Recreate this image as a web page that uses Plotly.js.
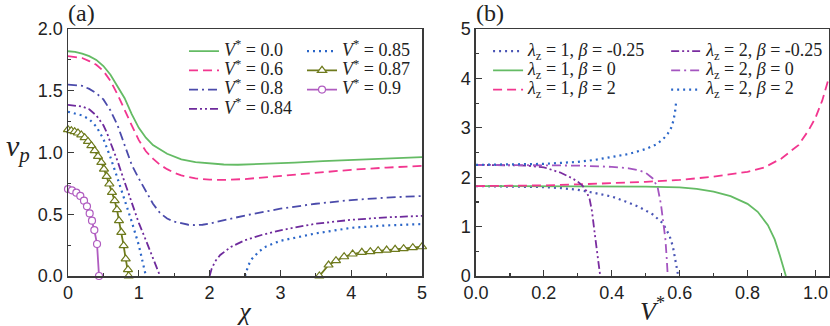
<!DOCTYPE html>
<html>
<head>
<meta charset="utf-8">
<script src="https://cdn.plot.ly/plotly-3.0.1.min.js"></script>
<style>
	html, body { margin: 0; padding: 0; background: #fff; }
	#plot { width: 830px; height: 326px; }
</style>
</head>
<body>
<div id="plot"></div>
<script>
/**
 * Panel (a): phase speed v_p against chi, one curve per V*
 * null splits a curve into its two branches
 */
const chiV00 = [0, 0.1, 0.2, 0.3, 0.4, 0.5, 0.6, 0.7, 0.8, 0.9, 1.0, 1.1, 1.2, 1.4, 1.6, 1.8, 2.0, 2.2, 2.4, 2.8, 3.2, 3.6, 4.0, 4.5, 5.0];
const vpV00 = [1.82, 1.815, 1.8, 1.78, 1.75, 1.7, 1.63, 1.54, 1.44, 1.31, 1.2, 1.12, 1.06, 0.99, 0.945, 0.922, 0.91, 0.903, 0.901, 0.908, 0.918, 0.93, 0.94, 0.952, 0.962];

const chiV06 = [0, 0.2, 0.3, 0.4, 0.5, 0.6, 0.7, 0.8, 0.9, 1.0, 1.1, 1.2, 1.3, 1.4, 1.5, 1.6, 1.8, 2.0, 2.2, 2.5, 3.0, 3.5, 4.0, 4.5, 5.0];
const vpV06 = [1.78, 1.765, 1.74, 1.71, 1.66, 1.58, 1.47, 1.34, 1.22, 1.1, 1.01, 0.95, 0.9, 0.865, 0.835, 0.815, 0.79, 0.78, 0.778, 0.785, 0.81, 0.838, 0.86, 0.878, 0.892];

const chiV08 = [0, 0.2, 0.3, 0.4, 0.5, 0.6, 0.7, 0.8, 0.9, 1.0, 1.1, 1.2, 1.3, 1.4, 1.5, 1.6, 1.7, 1.8, 1.9, 2.0, 2.2, 2.5, 3.0, 3.5, 4.0, 4.5, 5.0];
const vpV08 = [1.55, 1.54, 1.515, 1.48, 1.43, 1.34, 1.22, 1.06, 0.9, 0.79, 0.69, 0.585, 0.51, 0.465, 0.44, 0.425, 0.415, 0.412, 0.415, 0.425, 0.45, 0.49, 0.545, 0.585, 0.615, 0.635, 0.648];

const chiV084 = [0, 0.2, 0.3, 0.4, 0.5, 0.55, 0.6, 0.7, 0.8, 0.9, 1.0, 1.1, 1.2, 1.3, null, 2.0, 2.03, 2.08, 2.15, 2.3, 2.5, 2.75, 3.0, 3.25, 3.5, 4.0, 4.5, 5.0];
const vpV084 = [1.385, 1.372, 1.35, 1.3, 1.22, 1.16, 1.08, 0.93, 0.76, 0.59, 0.43, 0.29, 0.15, 0.0, null, 0.0, 0.06, 0.12, 0.17, 0.235, 0.29, 0.335, 0.37, 0.398, 0.423, 0.455, 0.475, 0.487];

const chiV085 = [0, 0.2, 0.3, 0.4, 0.5, 0.6, 0.7, 0.8, 0.9, 1.0, 1.05, 1.1, null, 2.5, 2.55, 2.6, 2.7, 2.8, 3.0, 3.25, 3.5, 4.0, 4.5, 5.0];
const vpV085 = [1.33, 1.3, 1.27, 1.21, 1.11, 0.96, 0.79, 0.62, 0.44, 0.25, 0.13, 0.0, null, 0.0, 0.09, 0.14, 0.2, 0.24, 0.285, 0.315, 0.345, 0.39, 0.41, 0.42];

const chiV087 = [0, 0.047, 0.094, 0.141, 0.188, 0.235, 0.282, 0.33, 0.377, 0.424, 0.471, 0.508, 0.546, 0.584, 0.621, 0.659, 0.692, 0.72, 0.753, 0.786, 0.815, 0.847, 0.857, null,
	3.55, 3.68, 3.785, 3.9, 4.02, 4.15, 4.27, 4.38, 4.5, 4.62, 4.74, 4.87, 5.0];
const vpV087 = [1.185, 1.177, 1.169, 1.158, 1.142, 1.12, 1.09, 1.055, 1.015, 0.969, 0.92, 0.866, 0.807, 0.745, 0.677, 0.61, 0.537, 0.448, 0.354, 0.246, 0.138, 0.051, 0.0, null,
	0.0, 0.089, 0.124, 0.156, 0.178, 0.192, 0.197, 0.205, 0.21, 0.216, 0.221, 0.229, 0.237];

const chiV09 = [0, 0.056, 0.118, 0.174, 0.226, 0.268, 0.306, 0.339, 0.372, 0.41, 0.438];
const vpV09 = [0.704, 0.694, 0.675, 0.648, 0.61, 0.564, 0.507, 0.448, 0.372, 0.259, 0.0];

/**
 * Panel (b): v_p against V* for lambda_z and beta
 */
const vsL1Bm = [0, 0.1, 0.2, 0.25, 0.3, 0.35, 0.4, 0.44, 0.48, 0.52, 0.55, 0.57, 0.58, 0.59, 0.596];
const vpL1Bm = [1.82, 1.815, 1.8, 1.78, 1.745, 1.68, 1.61, 1.51, 1.4, 1.25, 1.07, 0.82, 0.6, 0.22, 0.0];

const vsL1B0 = [0, 0.2, 0.4, 0.5, 0.6, 0.65, 0.7, 0.75, 0.8, 0.83, 0.86, 0.88, 0.895, 0.905, 0.913];
const vpL1B0 = [1.82, 1.82, 1.815, 1.81, 1.795, 1.765, 1.71, 1.615, 1.46, 1.3, 1.03, 0.74, 0.42, 0.2, 0.0];

const vsL1B2 = [0, 0.1, 0.2, 0.3, 0.4, 0.5, 0.6, 0.7, 0.8, 0.85, 0.9, 0.95, 0.98, 1.0, 1.02, 1.04];
const vpL1B2 = [1.82, 1.825, 1.835, 1.855, 1.875, 1.905, 1.945, 2.01, 2.11, 2.2, 2.38, 2.65, 2.95, 3.2, 3.55, 4.02];

const vsL2Bm = [0, 0.1, 0.15, 0.2, 0.25, 0.28, 0.3, 0.315, 0.325, 0.335, 0.342, 0.35, 0.357, 0.363, 0.366];
const vpL2Bm = [2.25, 2.245, 2.235, 2.2, 2.09, 1.99, 1.91, 1.82, 1.72, 1.55, 1.3, 0.85, 0.45, 0.15, 0.0];

const vsL2B0 = [0, 0.2, 0.3, 0.4, 0.45, 0.48, 0.5, 0.52, 0.535, 0.545, 0.553, 0.558, 0.562, 0.565];
const vpL2B0 = [2.25, 2.245, 2.235, 2.21, 2.18, 2.14, 2.09, 1.98, 1.8, 1.45, 1.05, 0.75, 0.35, 0.0];

const vsL2B2 = [0, 0.1, 0.2, 0.3, 0.35, 0.4, 0.45, 0.5, 0.53, 0.55, 0.565, 0.575, 0.582, 0.587, 0.59];
const vpL2B2 = [2.25, 2.255, 2.27, 2.31, 2.35, 2.41, 2.47, 2.57, 2.66, 2.76, 2.88, 3.0, 3.15, 3.35, 3.55];

const SERIF = "'Liberation Serif', 'Times New Roman', serif";
const SANS = "'Liberation Sans', Arial, sans-serif";
const FRAME = '#3a3a3a';
const INK = '#222';

/**
 * one line trace, panel 'a' sits on x/y, panel 'b' on x2/y2
 */
const lineTrace = ( x, y, name, opts ) => {
	const t = {
		x, y, name,
		type: 'scatter',
		mode: opts.symbol ? 'lines+markers' : 'lines',
		line: { color: opts.color, width: opts.width || 1.8, dash: opts.dash || 'solid' },
		xaxis: opts.panel === 'b' ? 'x2' : 'x',
		yaxis: opts.panel === 'b' ? 'y2' : 'y',
		legend: opts.legend,
		connectgaps: false,
		cliponaxis: false,
		hoverinfo: 'skip',
	};
	// white filled symbol with coloured edge, hides the line under it
	if ( opts.symbol ){
		t.marker = {
			symbol: opts.symbol,
			size: opts.size || 7,
			color: '#fff',
			line: { color: opts.color, width: 1.2 },
		};
	}
	return t;
};

// legend font size is kept small so rows pack tight, the span sets the real text size
const big = ( s ) => `<span style="font-size:18px">${s}</span>`;
const vLabel = ( v ) => big(`<i>V</i><sup>*</sup> = ${v}`);
const lbLabel = ( l, b ) => big(`<i>λ</i><sub>z</sub> = ${l}, <i>β</i> = ${b}`);

const data = [
	lineTrace(chiV00, vpV00, vLabel('0.0'), { color: '#64bb64', legend: 'legend' }),
	lineTrace(chiV06, vpV06, vLabel('0.6'), { color: '#f2368f', dash: '9px,5px', legend: 'legend' }),
	lineTrace(chiV08, vpV08, vLabel('0.8'), { color: '#4b4bab', dash: '9px,4px,2px,4px', legend: 'legend' }),
	lineTrace(chiV084, vpV084, vLabel('0.84'), { color: '#6e2a9c', dash: '8px,3px,2px,3px,2px,3px', legend: 'legend' }),
	lineTrace(chiV085, vpV085, vLabel('0.85'), { color: '#2b66c8', dash: '2px,4px', width: 2.2, legend: 'legend2' }),
	lineTrace(chiV087, vpV087, vLabel('0.87'), { color: '#6e7a1c', symbol: 'triangle-up', size: 8, legend: 'legend2' }),
	lineTrace(chiV09, vpV09, vLabel('0.9'), { color: '#b05cc0', symbol: 'circle', size: 7, legend: 'legend2' }),

	lineTrace(vsL1Bm, vpL1Bm, lbLabel(1, '-0.25'), { panel: 'b', color: '#4a55b5', dash: '2px,4px', width: 2.2, legend: 'legend3' }),
	lineTrace(vsL1B0, vpL1B0, lbLabel(1, 0), { panel: 'b', color: '#64bb64', legend: 'legend3' }),
	lineTrace(vsL1B2, vpL1B2, lbLabel(1, 2), { panel: 'b', color: '#f2368f', dash: '9px,5px', legend: 'legend3' }),
	lineTrace(vsL2Bm, vpL2Bm, lbLabel(2, '-0.25'), { panel: 'b', color: '#7a2ca0', dash: '8px,3px,2px,3px,2px,3px', legend: 'legend4' }),
	lineTrace(vsL2B0, vpL2B0, lbLabel(2, 0), { panel: 'b', color: '#a455c0', dash: '9px,4px,2px,4px', legend: 'legend4' }),
	lineTrace(vsL2B2, vpL2B2, lbLabel(2, 2), { panel: 'b', color: '#2b66c8', dash: '2px,4px', width: 2.2, legend: 'legend4' }),
];

const minorTicks = ( dtick ) => ({ ticks: 'inside', ticklen: 3, tickwidth: 1.2, tickcolor: FRAME, showgrid: false, dtick });

/**
 * framed axis, ticks inside, no grid
 */
const getAxis = ( opts ) => Object.assign({
	showline: true,
	linecolor: FRAME,
	linewidth: 1.5,
	mirror: true,
	ticks: 'inside',
	ticklen: 6,
	tickwidth: 1.2,
	tickcolor: FRAME,
	showgrid: false,
	zeroline: false,
	tickfont: { family: SANS, size: 18, color: INK },
}, opts);

const legendBox = ( x ) => ({
	x, y: 0.97,
	xanchor: 'left', yanchor: 'top',
	bgcolor: 'rgba(0,0,0,0)',
	borderwidth: 0,
	font: { family: SERIF, size: 12.5, color: INK },
	tracegroupgap: 0,
});

const layout = {
	width: 830,
	height: 326,
	margin: { l: 68, r: 1, t: 29, b: 50 },
	paper_bgcolor: '#fff',
	plot_bgcolor: '#fff',
	font: { family: SANS, size: 18, color: INK },
	showlegend: true,
	xaxis: getAxis({
		domain: [0, 0.4652],
		anchor: 'y',
		range: [0, 5],
		dtick: 1,
		minor: minorTicks(0.5),
		title: { text: '<i>χ</i>', font: { family: SERIF, size: 26, color: INK }, standoff: 0 },
	}),
	yaxis: getAxis({
		domain: [0, 1],
		anchor: 'x',
		range: [0, 2],
		dtick: 0.5,
		tickformat: '.1f',
		minor: minorTicks(0.25),
	}),
	xaxis2: getAxis({
		domain: [0.5361, 1],
		anchor: 'y2',
		range: [0, 1.04],
		dtick: 0.2,
		tickformat: '.1f',
		minor: minorTicks(0.1),
		title: { text: '<i>V</i><sup>*</sup>', font: { family: SERIF, size: 26, color: INK }, standoff: 0 },
	}),
	yaxis2: getAxis({
		domain: [0, 1],
		anchor: 'x2',
		range: [0, 5],
		dtick: 1,
		minor: minorTicks(0.5),
	}),
	legend: legendBox(0.1524),
	legend2: legendBox(0.3075),
	legend3: legendBox(0.552),
	legend4: legendBox(0.786),
	annotations: [
		{ text: '(a)', xref: 'paper', yref: 'paper', x: -0.002, y: 1.125, xanchor: 'left', yanchor: 'top',
			showarrow: false, font: { family: SERIF, size: 24, color: INK } },
		{ text: '(b)', xref: 'paper', yref: 'paper', x: 0.533, y: 1.125, xanchor: 'left', yanchor: 'top',
			showarrow: false, font: { family: SERIF, size: 24, color: INK } },
		{ text: '<i>v</i><sub><i>p</i></sub>', xref: 'paper', yref: 'paper', x: -0.066, y: 0.52,
			xanchor: 'center', yanchor: 'middle', showarrow: false, font: { family: SERIF, size: 30, color: INK } },
	],
};

Plotly.newPlot('plot', data, layout, { displayModeBar: false, staticPlot: true });
</script>
</body>
</html>
